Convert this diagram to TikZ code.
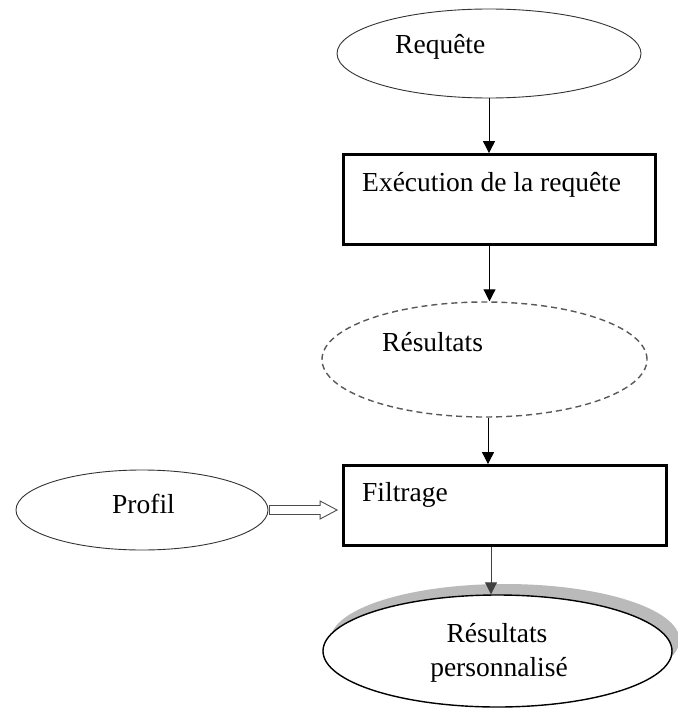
\documentclass[tikz,border=0pt]{standalone}
\usepackage{fontspec}
\setmainfont{Liberation Serif}
\usetikzlibrary{arrows.meta,calc,shapes.geometric}
\begin{document}
\begin{tikzpicture}[x=1pt,y=-1pt,
  oval/.style={ellipse, draw=black!80, line width=0.9pt, inner sep=0pt, fill=white},
  dashoval/.style={ellipse, draw=black!65, line width=1.4pt, dash pattern=on 6pt off 4pt, inner sep=0pt},
  shade/.style={ellipse, fill=black!27, draw=none, inner sep=0pt},
  stepbox/.style={rectangle, draw=black, line width=2.8pt, inner sep=0pt, fill=white},
  lbl/.style={anchor=base west, inner sep=0pt, font=\fontsize{27.5}{31}\selectfont},
  link/.style={draw=black, line width=0.9pt, -{Triangle[length=12pt,width=12pt]}},
  hollow/.style={draw=black!70, line width=0.9pt, fill=white}]
\useasboundingbox (0,0) rectangle (677,709);

% shapes
\node[oval, minimum width=304pt, minimum height=89pt] (req) at (489,53.5) {};
\node[stepbox, minimum width=312pt, minimum height=90pt] (exe) at (499.5,199.5) {};
\node[dashoval, minimum width=325pt, minimum height=115pt] (res) at (484.5,359.5) {};
\node[stepbox, minimum width=323pt, minimum height=80pt] (fil) at (505,505.5) {};
\node[oval, minimum width=252pt, minimum height=80pt] (pro) at (142,510) {};
\node[shade, minimum width=349pt, minimum height=112pt] (outshade) at (505,640) {};
\node[oval, draw=black, line width=1.4pt, minimum width=349pt, minimum height=112pt] (out) at (497.5,651) {};

% labels
\node[lbl] (treq) at (395,53) {Requête};
\node[lbl] (texe) at (362,191) {Exécution de la requête};
\node[lbl] (tres) at (382,351) {Résultats};
\node[lbl] (tfil) at (362,501) {Filtrage};
\node[lbl] (tpro) at (112,513) {Profil};
\node[lbl, anchor=base] (tout1) at (497,642) {Résultats};
\node[lbl, anchor=base] (tout2) at (499,676) {personnalisé};

% connectors
\draw[link] (req.south) -- (req.south |- exe.north);
\draw[link] ([xshift=-10pt]exe.south) -- ([xshift=-10pt]exe.south |- res.north);
\draw[link] ([xshift=3.5pt]res.south) -- ([xshift=3.5pt]res.south |- fil.north);
\draw[link, draw=black!75, fill=black!75] ([xshift=-14pt]fil.south) -- ([xshift=-14pt]fil.south |- out.north);

% hollow arrow from the profile to the filter
\draw[hollow] let \p1=(pro.east), \p2=(fil.west) in
  (\x1+1pt,\y1+4.5pt) -- (\x2-22pt,\y1+4.5pt) -- (\x2-22pt,\y1+9pt) -- (\x2-5pt,\y1)
  -- (\x2-22pt,\y1-9pt) -- (\x2-22pt,\y1-4.5pt) -- (\x1+1pt,\y1-4.5pt) -- cycle;
\end{tikzpicture}
\end{document}
